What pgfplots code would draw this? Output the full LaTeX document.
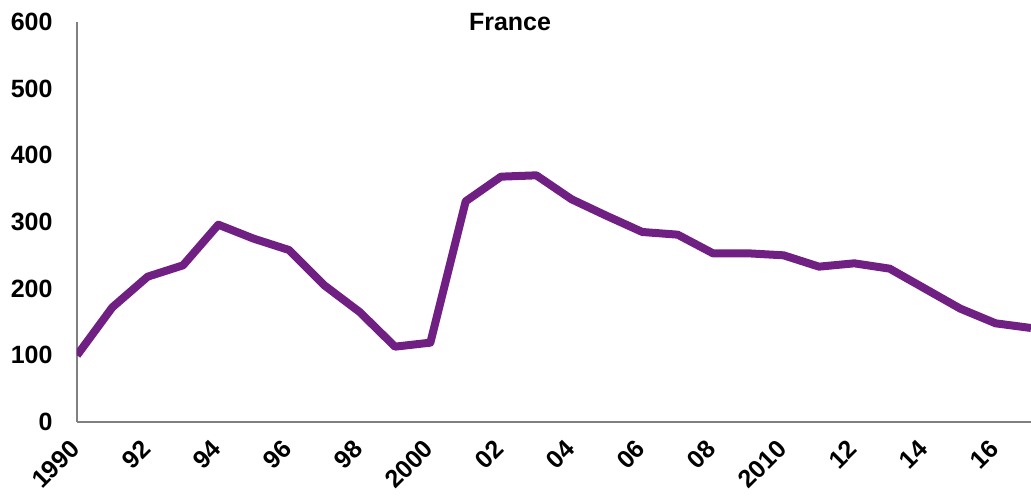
\documentclass[border=0pt]{standalone}
\usepackage{fontspec}
\setmainfont{Liberation Sans}
\usepackage{pgfplots}
\pgfplotsset{compat=1.18}

\definecolor{franceline}{RGB}{112,32,130}
\definecolor{axisgrey}{RGB}{128,128,128}

\begin{document}
\begin{tikzpicture}
\begin{axis}[name=ax, scale only axis, width=954pt, height=400pt,
  xmin=1990, xmax=2017, ymin=0, ymax=600,
  axis lines=left, axis line style={axisgrey, line width=1.5pt, -},
  xtick={1990,1992,...,2016},
  xticklabels={1990,92,94,96,98,2000,02,04,06,08,2010,12,14,16},
  ytick={0,100,...,600},
  major tick length=0pt,
  /pgf/number format/assume math mode=true,
  tick label style={font=\fontsize{25}{30}\selectfont\bfseries},
  x tick label style={xshift=-8pt, yshift=-16pt, rotate=45, anchor=north east, inner sep=0pt},
  y tick label style={xshift=-21pt},
  clip=true]
\addplot[franceline, line width=8pt, line join=round] coordinates {
  (1990,100) (1991,172) (1992,218) (1993,235) (1994,296) (1995,275)
  (1996,258) (1997,205) (1998,165) (1999,113) (2000,119) (2001,331)
  (2002,368) (2003,370) (2004,334) (2005,309) (2006,285) (2007,281)
  (2008,253) (2009,253) (2010,250) (2011,233) (2012,238) (2013,230)
  (2014,200) (2015,170) (2016,148) (2017,141)};
\end{axis}
\node[font=\fontsize{25}{30}\selectfont\bfseries, xshift=-44pt] at (ax.north) {France};
\pgfresetboundingbox
\path ([xshift=-77pt,yshift=-80pt]ax.south west) rectangle ([yshift=22pt]ax.north east);
\end{tikzpicture}
\end{document}
